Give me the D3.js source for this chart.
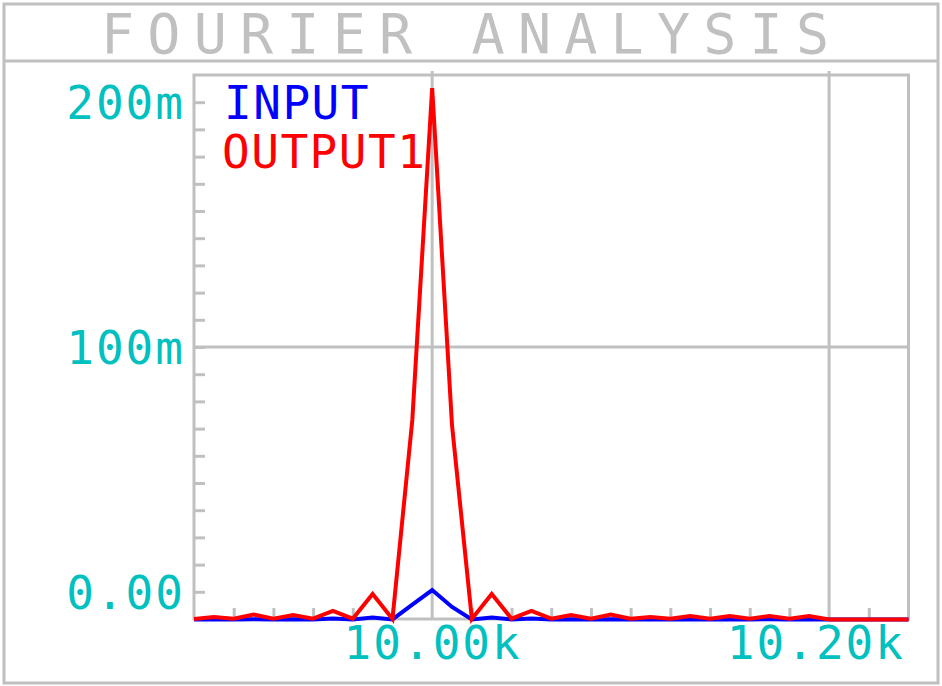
<!DOCTYPE html>
<html lang="en">
<head>
    <meta charset="UTF-8">
    <script src="https://cdnjs.cloudflare.com/ajax/libs/d3/7.8.5/d3.min.js" type="text/JavaScript"></script>
    <style>
        body {
            margin: 0;
            background: #ffffff;
        }
        text {
            font-family: "DejaVu Sans Mono", "Liberation Mono", monospace;
        }
        path.domain {
            stroke: none;
        }
        .tick > line {
            stroke: #c0c0c0;
            stroke-width: 3;
        }
    </style>
</head>
<body>
    <div id="viz">
        <svg style="width:942px;height:686px;"></svg>
    </div>
    <script>
        // frequency bins (Hz)
        const freqs = [9880, 9890, 9900, 9910, 9920, 9930, 9940, 9950, 9960, 9970,
            9980, 9990, 10000, 10010, 10020, 10030, 10040, 10050, 10060, 10070,
            10080, 10090, 10100, 10110, 10120, 10130, 10140, 10150, 10160, 10170,
            10180, 10190, 10200, 10210, 10220, 10230, 10240];

        // magnitudes
        const inputMag = [-0.0113, -0.0113, -0.0113, -0.0112, -0.0113, -0.0112, -0.0113, -0.0109, -0.0113, -0.0105,
            -0.0113, -0.0052, 0.0007, -0.0062, -0.0113, -0.0105, -0.0113, -0.0109, -0.0113, -0.0112,
            -0.0113, -0.0112, -0.0113, -0.0112, -0.0113, -0.0112, -0.0113, -0.0112, -0.0113, -0.0112,
            -0.0113, -0.0112, -0.0113, -0.0113, -0.0113, -0.0113, -0.0113];

        const output1Mag = [-0.0111, -0.0103, -0.0110, -0.0093, -0.0110, -0.0095, -0.0110, -0.0078, -0.0110, -0.0009,
            -0.0111, 0.0702, 0.2058, 0.0681, -0.0111, -0.0009, -0.0110, -0.0078, -0.0110, -0.0095,
            -0.0110, -0.0093, -0.0110, -0.0103, -0.0110, -0.0099, -0.0110, -0.0099, -0.0110, -0.0099,
            -0.0110, -0.0099, -0.0113, -0.0113, -0.0113, -0.0113, -0.0113];

        const seriesNames = ['INPUT', 'OUTPUT1'];
        const xLabelTicks = [10000, 10200];
        const xMinorTicks = [9900, 9920, 9940, 9960, 9980, 10020, 10040, 10060, 10080,
            10100, 10120, 10140, 10160, 10180, 10220];
        const yLabelTicks = [0, 0.1, 0.2];
        const yGridTicks = [0.1];
        const titleText = 'FOURIER ANALYSIS';

        const grey = '#c0c0c0';
        const teal = '#00c0c0';
        const colors = ['#0000ff', '#ff0000'];

        const svg = d3.select('svg');

        // outer frame + title box
        svg.append('rect')
            .attr('x', 4).attr('y', 4)
            .attr('width', 934).attr('height', 679)
            .attr('fill', 'none')
            .attr('stroke', grey)
            .attr('stroke-width', 3);
        svg.append('line')
            .attr('x1', 4).attr('x2', 938)
            .attr('y1', 61).attr('y2', 61)
            .attr('stroke', grey)
            .attr('stroke-width', 3);
        svg.append('text')
            .attr('x', 101)
            .attr('y', 53)
            .attr('textLength', 728)
            .attr('lengthAdjust', 'spacing')
            .attr('fill', grey)
            .style('font-size', '55px')
            .style('font-weight', 300)
            .text(titleText);

        const xScale = d3.scaleLinear().domain([9880, 10240]).range([194, 908.5]);
        const yScale = d3.scaleLinear().domain([-1 / 90, 19 / 90]).range([619, 75]);

        // plot frame
        svg.append('rect')
            .attr('x', xScale.range()[0])
            .attr('y', yScale.range()[1])
            .attr('width', xScale.range()[1] - xScale.range()[0])
            .attr('height', yScale.range()[0] - yScale.range()[1])
            .attr('fill', 'none')
            .attr('stroke', grey)
            .attr('stroke-width', 3);

        // minor ticks (inside)
        const xMinor = d3.axisBottom(xScale)
            .tickValues(xMinorTicks)
            .tickSize(-11)
            .tickFormat('');
        svg.append('g').attr('id', 'xMinorG')
            .attr('transform', `translate(0,${yScale.range()[0]})`)
            .call(xMinor);

        const yMinor = d3.axisLeft(yScale)
            .tickValues(d3.range(0, 19).map(k => k / 90))
            .tickSize(-11)
            .tickFormat('');
        svg.append('g').attr('id', 'yMinorG')
            .attr('transform', `translate(${xScale.range()[0]},0)`)
            .call(yMinor);

        // grid lines
        svg.append('g').selectAll('line.vgrid')
            .data(xLabelTicks)
            .enter().append('line')
            .attr('x1', d => xScale(d)).attr('x2', d => xScale(d))
            .attr('y1', yScale.range()[1] - 4).attr('y2', yScale.range()[0])
            .attr('stroke', grey)
            .attr('stroke-width', 3);
        svg.append('g').selectAll('line.hgrid')
            .data(yGridTicks)
            .enter().append('line')
            .attr('x1', xScale.range()[0]).attr('x2', xScale.range()[1])
            .attr('y1', d => yScale(d)).attr('y2', d => yScale(d))
            .attr('stroke', grey)
            .attr('stroke-width', 3);

        // labelled axes
        const xAxis = d3.axisBottom(xScale)
            .tickValues(xLabelTicks)
            .tickSize(0)
            .tickPadding(7)
            .tickFormat(d => (d / 1000).toFixed(2) + 'k');
        const xAxisG = svg.append('g').attr('id', 'xAxisG')
            .attr('transform', `translate(0,${yScale.range()[0]})`)
            .call(xAxis);

        const yAxis = d3.axisLeft(yScale)
            .tickValues(yLabelTicks)
            .tickSize(0)
            .tickPadding(9)
            .tickFormat(d => d === 0 ? '0.00' : Math.round(d * 1000) + 'm');
        const yAxisG = svg.append('g').attr('id', 'yAxisG')
            .attr('transform', `translate(${xScale.range()[0]},0)`)
            .call(yAxis);

        svg.selectAll('#xAxisG text, #yAxisG text')
            .attr('fill', teal)
            .style('font-size', '46px')
            .style('letter-spacing', '2px');
        yAxisG.selectAll('text').attr('dy', '0.36em');

        // keep the last x label inside the plot frame
        xAxisG.selectAll('.tick').each(function (d) {
            const t = d3.select(this).select('text');
            const w = t.node().getComputedTextLength();
            const right = xScale(d) + w / 2;
            if (right > xScale.range()[1] - 4) {
                t.attr('dx', (xScale.range()[1] - 4) - right);
            }
        });

        // traces
        const series = [inputMag, output1Mag];
        const line = d3.line()
            .x((d, i) => xScale(freqs[i]))
            .y(d => yScale(d));

        series.forEach((values, i) => {
            svg.append('path')
                .attr('d', line(values))
                .attr('fill', 'none')
                .attr('stroke', colors[i])
                .attr('stroke-width', 4)
                .attr('stroke-linejoin', 'miter');
        });

        // legend
        svg.append('g').selectAll('text')
            .data(seriesNames)
            .enter().append('text')
            .attr('x', (d, i) => i === 0 ? 224 : 222)
            .attr('y', (d, i) => 119 + i * 49)
            .attr('fill', (d, i) => colors[i])
            .style('font-size', '46px')
            .style('letter-spacing', '1.5px')
            .text(d => d);
    </script>
</body>
</html>
